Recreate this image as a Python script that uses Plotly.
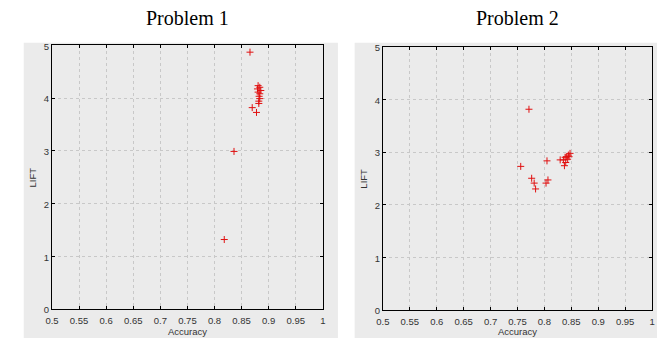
import plotly.graph_objects as go

W, H = 660, 344

# Problem 1: accuracy vs. lift of the rule sets
p1_accuracy = [0.8655, 0.8805, 0.8836, 0.8793, 0.8855, 0.8805, 0.8836, 0.8824,
               0.8836, 0.8818, 0.8818, 0.8696, 0.8775, 0.836, 0.818]
p1_lift = [4.871, 4.236, 4.205, 4.174, 4.144, 4.113, 4.082, 4.034,
           3.990, 3.942, 3.898, 3.819, 3.728, 2.988, 1.317]

# Problem 2
p2_accuracy = [0.8476, 0.8445, 0.8414, 0.8385, 0.8458, 0.8432, 0.8353, 0.8293,
               0.8396, 0.8372, 0.7713, 0.756, 0.8048, 0.7763, 0.781, 0.7836,
               0.8066, 0.803]
p2_lift = [2.976, 2.944, 2.913, 2.902, 2.913, 2.865, 2.852, 2.852,
           2.803, 2.742, 3.815, 2.729, 2.834, 2.503, 2.411, 2.300,
           2.471, 2.411]

x_ticks = [0.5, 0.55, 0.6, 0.65, 0.7, 0.75, 0.8, 0.85, 0.9, 0.95, 1.0]
x_tick_text = ["0.5", "0.55", "0.6", "0.65", "0.7", "0.75", "0.8", "0.85", "0.9", "0.95", "1"]
y_ticks = [0, 1, 2, 3, 4, 5]
titles = ["Problem 1", "Problem 2"]


def px_x(v):
    return v / W


def px_y(v):
    return 1 - v / H


# plot-area boxes in pixels: (left, right, top, bottom)
boxes = [(45.7, 320.7, 41.7, 314.0), (381.7, 655.0, 43.3, 315.0)]
# grey panel backgrounds in pixels
panels = [(17, 336, 39, 344), (353, 660, 39, 344)]

BG = "#ebebeb"
tick_font = dict(family="Liberation Sans, Arial, sans-serif", size=9.5, color="#333333")
marker_style = dict(symbol="cross-thin", size=5, line=dict(color="#e01010", width=1))

fig = go.Figure()
fig.add_trace(go.Scatter(x=p1_accuracy, y=p1_lift, mode="markers", marker=marker_style,
                         xaxis="x", yaxis="y", showlegend=False))
fig.add_trace(go.Scatter(x=p2_accuracy, y=p2_lift, mode="markers", marker=marker_style,
                         xaxis="x2", yaxis="y2", showlegend=False))

shapes = []
annotations = []
for i, ((l, r, t, b), (gl, gr, gt, gb)) in enumerate(zip(boxes, panels)):
    shapes.append(dict(type="rect", xref="paper", yref="paper",
                       x0=px_x(gl), x1=px_x(gr), y0=px_y(gb), y1=px_y(gt),
                       fillcolor=BG, line=dict(width=0), layer="below"))
    cx = (l + r) / 2
    annotations.append(dict(text=titles[i], xref="paper", yref="paper",
                            x=px_x(cx), y=px_y(13), xanchor="center", yanchor="middle",
                            showarrow=False,
                            font=dict(family="Liberation Serif, Times New Roman, serif",
                                      size=20, color="#000000")))
    annotations.append(dict(text="Accuracy", xref="paper", yref="paper",
                            x=px_x(cx), y=px_y(337.5), xanchor="center", yanchor="middle",
                            showarrow=False, font=tick_font))
    annotations.append(dict(text="LIFT", xref="paper", yref="paper",
                            x=px_x(l - 20), y=px_y((t + b) / 2), xanchor="center",
                            yanchor="middle", textangle=-90,
                            showarrow=False, font=tick_font))

axis_common = dict(showline=True, linecolor="#000000", linewidth=1, mirror="ticks",
                   ticks="inside", ticklen=3, tickcolor="#000000",
                   showgrid=True, gridcolor="#c8c8c8", griddash="dot", gridwidth=1,
                   zeroline=False, tickfont=tick_font)

layout = dict(width=W, height=H, margin=dict(l=0, r=0, t=0, b=0),
              paper_bgcolor="white", plot_bgcolor=BG,
              shapes=shapes, annotations=annotations)
for i, (l, r, t, b) in enumerate(boxes):
    sx = "" if i == 0 else str(i + 1)
    layout["xaxis" + sx] = dict(axis_common, domain=[px_x(l), px_x(r)], range=[0.5, 1.0],
                                tickvals=x_ticks, ticktext=x_tick_text,
                                ticklabelstandoff=3, anchor="y" + sx)
    layout["yaxis" + sx] = dict(axis_common, domain=[px_y(b), px_y(t)], range=[0, 5],
                                tickvals=y_ticks, ticklabelshift=1, anchor="x" + sx)

fig.update_layout(**layout)
fig.write_html("out.html")
